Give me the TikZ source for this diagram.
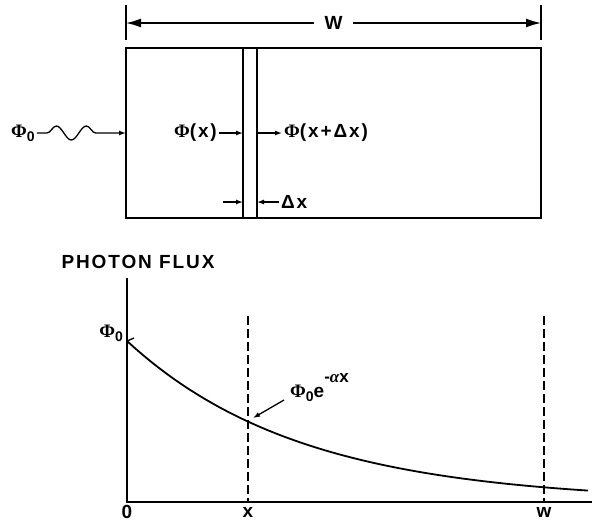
\documentclass[tikz,border=0pt]{standalone}
\usepackage{fontspec}
\newfontfamily\lettering{Liberation Sans}[LetterSpace=10]
\newfontfamily\greekserif{Liberation Serif}
\usetikzlibrary{arrows.meta,decorations.pathmorphing}

\newcommand{\bphi}{{\greekserif\bfseries Φ}}
\newcommand{\phinought}{\bphi\raisebox{-0.4ex}{\fontsize{14}{14}\selectfont 0}}

\begin{document}
\begin{tikzpicture}[
  x=1pt, y=-1pt,
  font=\lettering\bfseries\fontsize{19}{20}\selectfont,
  >={Latex[length=7pt,width=5pt]},
  lbl/.style={inner sep=2pt},
  heavy/.style={line width=1.8pt},
  thin/.style={line width=1.3pt},
  guide/.style={line width=1.3pt, dash pattern=on 9pt off 4pt},
  dimarrow/.style={->, line width=1.5pt, >={Latex[length=15pt,width=9pt]}}
]
\useasboundingbox (0,0) rectangle (599,523);

\node[lbl, inner xsep=10pt] (wtop) at (333.5,23) {W};
\coordinate (wl) at (126,23);
\coordinate (wr) at (541,23);
\draw[thin] (126,5) -- (126,40);
\draw[thin] (541,5) -- (541,40);
\draw[dimarrow] (wtop) -- (wl);
\draw[dimarrow] (wtop) -- (wr);

\draw[heavy] (126,48) rectangle (541,218);
\draw[heavy] (243,48) -- (243,218);
\draw[heavy] (257,48) -- (257,218);

\node[lbl] (phiin) at (23,133) {\phinought};
\coordinate (entry) at (126,133);
\draw[thin, ->, decorate, decoration={snake, segment length=30pt, amplitude=7pt,
  pre length=10pt, post length=22pt}] (phiin) -- (entry);

\node[lbl, anchor=east] (phix) at (219,133) {\bphi(x)};
\coordinate (slabin) at (243,133);
\draw[thin, ->] (phix) -- (slabin);
\node[lbl, anchor=west] (phixdx) at (282,133) {\bphi(x+Δx)};
\coordinate (slabout) at (257,133);
\draw[thin, ->] (slabout) -- (phixdx);

\node[lbl, anchor=west] (dx) at (279,202) {Δx};
\coordinate (dxstart) at (223,202);
\coordinate (dxl) at (243,202);
\coordinate (dxr) at (257,202);
\draw[thin, ->] (dxstart) -- (dxl);
\draw[thin, ->] (dx) -- (dxr);

\node[lbl] (flux) at (138,262) {PHOTON FLUX};
\coordinate (ytop) at (127,278);
\coordinate (orig) at (127,502);
\coordinate (xend) at (592,502);
\draw[heavy] (ytop) -- (orig) -- (xend);
\node[lbl, anchor=east] (phiax) at (125,333) {\phinought};
\draw[thin] (127,341) -- (134,338);
\draw[heavy] plot[domain=127:588, samples=60] (\x, {502-161*exp(-0.00573*(\x-127))});

\draw[guide] (248,316) -- (248,502);
\draw[guide] (544,316) -- (544,502);
\node[lbl] (l0) at (127,512) {0};
\node[lbl] (lx) at (248,512) {x};
\node[lbl] (lw) at (544,512) {w};

\node[lbl, anchor=base west] (decay) at (288,397)
  {\phinought e\raisebox{1.4ex}{\fontsize{17}{17}\selectfont -{\greekserif\itshape α}x}};
\coordinate (hit) at (253,418);
\draw[thin, ->] ([xshift=-4pt,yshift=-3pt]decay.base west) -- (hit);
\end{tikzpicture}
\end{document}
